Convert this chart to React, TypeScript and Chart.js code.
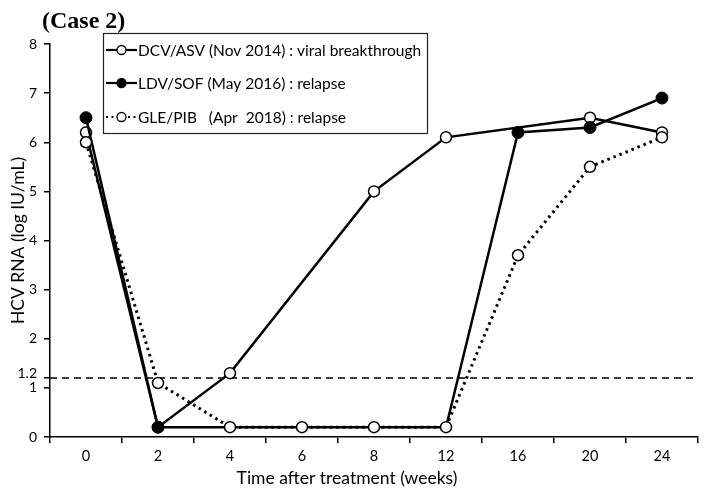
import { useEffect, useRef } from "react";
import { Chart, registerables } from "chart.js";

Chart.register(...registerables);

const weeks = ["0", "2", "4", "6", "8", "12", "16", "20", "24"];
const dcvAsv = [6.2, 0.2, 1.3, null, 5.0, 6.1, null, 6.5, 6.2];
const ldvSof = [6.5, 0.2, 0.2, 0.2, 0.2, 0.2, 6.2, 6.3, 6.9];
const glePib = [6.0, 1.1, 0.2, 0.2, 0.2, 0.2, 3.7, 5.5, 6.1];
const yTickValues = [0, 1, 1.2, 2, 3, 4, 5, 6, 7, 8];
const threshold = 1.2;
const seriesLabels = [
  "DCV/ASV (Nov 2014) : viral breakthrough",
  "LDV/SOF (May 2016) : relapse",
  "GLE/PIB   (Apr  2018) : relapse",
];
const titleText = "(Case 2)";
const xTitleText = "Time after treatment (weeks)";
const yTitleText = "HCV RNA (log IU/mL)";

const FONT = "Lato, 'Open Sans', sans-serif";

const decorPlugin = {
  id: "decor",
  beforeDatasetsDraw(chart: any) {
    const { ctx, chartArea, scales } = chart;
    const y = scales.y.getPixelForValue(threshold);
    ctx.save();
    ctx.strokeStyle = "#000";
    ctx.lineWidth = 1.5;
    ctx.setLineDash([7, 5]);
    ctx.beginPath();
    ctx.moveTo(chartArea.left, y);
    ctx.lineTo(chartArea.right, y);
    ctx.stroke();
    ctx.restore();
  },
  afterDraw(chart: any) {
    const { ctx, chartArea, scales } = chart;
    ctx.save();
    // threshold tick label, lifted slightly above its tick like the original
    ctx.fillStyle = "#000";
    ctx.font = `14px ${FONT}`;
    ctx.textAlign = "right";
    ctx.textBaseline = "middle";
    ctx.fillText(String(threshold), chartArea.left - 13, scales.y.getPixelForValue(threshold) - 5);

    // title
    ctx.font = "bold 24px 'Liberation Serif', 'Times New Roman', serif";
    ctx.textAlign = "left";
    ctx.textBaseline = "alphabetic";
    ctx.fillText(titleText, 42, 28);

    // axis titles
    ctx.font = `17.5px ${FONT}`;
    ctx.textAlign = "center";
    ctx.textBaseline = "middle";
    ctx.fillText(xTitleText, 347, 478);
    ctx.save();
    ctx.translate(18, (chartArea.top + chartArea.bottom) / 2);
    ctx.rotate(-Math.PI / 2);
    ctx.fillText(yTitleText, 0, 0);
    ctx.restore();

    // legend box
    const bx = 103.5, by = 33.5, bw = 324, bh = 100;
    ctx.strokeStyle = "#222";
    ctx.lineWidth = 1.2;
    ctx.setLineDash([]);
    ctx.strokeRect(bx, by, bw, bh);
    const rows = [50, 83, 117];
    const styles = [
      { dash: [] as number[], fill: "#fff" },
      { dash: [] as number[], fill: "#000" },
      { dash: [2, 3.5], fill: "#fff" },
    ];
    rows.forEach((ry, i) => {
      const st = styles[i];
      ctx.strokeStyle = "#000";
      ctx.lineWidth = 2.2;
      ctx.setLineDash(st.dash);
      ctx.beginPath();
      ctx.moveTo(106, ry);
      ctx.lineTo(137, ry);
      ctx.stroke();
      ctx.setLineDash([]);
      ctx.lineWidth = 1.3;
      ctx.fillStyle = st.fill;
      ctx.beginPath();
      ctx.arc(121.5, ry, 4.5, 0, Math.PI * 2);
      ctx.fill();
      ctx.stroke();
      ctx.fillStyle = "#000";
      ctx.font = `15.5px ${FONT}`;
      ctx.textAlign = "left";
      ctx.textBaseline = "middle";
      ctx.fillText(seriesLabels[i], 138, ry + 1);
    });
    ctx.restore();
  },
};

export default function App() {
  const ref = useRef<HTMLCanvasElement | null>(null);
  useEffect(() => {
    if (!ref.current) return;
    const chart = new Chart(ref.current, {
      type: "line",
      data: {
        labels: weeks,
        datasets: [
          {
            label: seriesLabels[0],
            data: dcvAsv,
            borderColor: "#000",
            borderWidth: 2.5,
            pointRadius: 5.5,
            pointBackgroundColor: "#fff",
            pointBorderColor: "#000",
            pointBorderWidth: 1.5,
            spanGaps: true,
            tension: 0,
            order: 3,
          },
          {
            label: seriesLabels[1],
            data: ldvSof,
            borderColor: "#000",
            borderWidth: 2.5,
            pointRadius: [6, 6, 0, 0, 0, 0, 6, 6, 6],
            pointBackgroundColor: "#000",
            pointBorderColor: "#000",
            pointBorderWidth: 1,
            tension: 0,
            order: 2,
          },
          {
            label: seriesLabels[2],
            data: glePib,
            borderColor: "#000",
            borderWidth: 3,
            borderDash: [2.5, 4],
            pointRadius: 5.5,
            pointBackgroundColor: "#fff",
            pointBorderColor: "#000",
            pointBorderWidth: 1.5,
            tension: 0,
            order: 1,
          },
        ],
      },
      options: {
        responsive: false,
        animation: false,
        layout: { padding: { top: 44, right: 11, left: 0, bottom: 0 } },
        plugins: {
          legend: { display: false },
          title: { display: false },
          tooltip: { enabled: false },
        },
        scales: {
          x: {
            type: "category",
            offset: true,
            afterFit: (s: any) => {
              s.height = 56;
            },
            grid: {
              offset: true,
              drawOnChartArea: false,
              drawTicks: true,
              tickLength: 6,
              color: "#000",
              tickColor: "#000",
              lineWidth: 1.5,
            },
            border: { display: true, color: "#000", width: 1.5 },
            ticks: {
              color: "#000",
              font: { family: FONT, size: 14.5 },
              padding: 5,
              maxRotation: 0,
              autoSkip: false,
            },
          },
          y: {
            min: 0,
            max: 8,
            afterFit: (s: any) => {
              s.width = 50;
            },
            afterBuildTicks: (s: any) => {
              s.ticks = yTickValues.map((v) => ({ value: v }));
            },
            grid: {
              drawOnChartArea: false,
              drawTicks: true,
              tickLength: 6,
              color: "#000",
              tickColor: "#000",
              lineWidth: 1.5,
            },
            border: { display: true, color: "#000", width: 1.5 },
            ticks: {
              color: "#000",
              font: { family: FONT, size: 14 },
              padding: 7,
              autoSkip: false,
              callback: (v: any) => (v === threshold ? "" : String(v)),
            },
          },
        },
      },
      plugins: [decorPlugin],
    });
    return () => chart.destroy();
  }, []);
  return (
    <div style={{ position: "fixed", left: 0, top: 0, width: 709, height: 493, background: "#fff" }}>
      <canvas ref={ref} width={709} height={493} />
    </div>
  );
}
